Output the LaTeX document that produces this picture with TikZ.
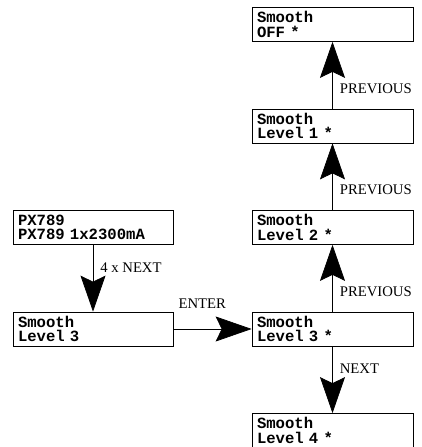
\documentclass[tikz,border=0pt]{standalone}
\usepackage{fontspec}
\setmainfont{Liberation Serif}
\newfontfamily\lcdfont{Liberation Mono}
\usetikzlibrary{positioning,arrows.meta}

\begin{document}
\begin{tikzpicture}[node distance=101.5pt,on grid,auto,
  screen/.style={draw,line width=0.7pt,minimum width=161pt,minimum height=34pt,
    text width=151pt,inner xsep=5pt,inner ysep=0pt,align=left,
    font=\lcdfont\bfseries\fontsize{15.6}{14.3}\selectfont},
  screen left/.style={screen,minimum width=160pt,text width=150pt},
  key/.style={font=\fontsize{14.7}{16}\selectfont,inner sep=0pt},
  push/.style={-{Stealth[length=36pt,width=25pt,inset=6pt]},line width=0.7pt}]
\useasboundingbox (0pt,0.5pt) rectangle (422pt,447.5pt);
\node[screen] (s_off) at (332.5pt,423pt) {Smooth\\OFF *};
\node[screen] (s_l1) [below=of s_off] {Smooth\\Level 1 *};
\node[screen] (s_l2) [below=of s_l1] {Smooth\\Level 2 *};
\node[screen] (s_l3) [below=of s_l2] {Smooth\\Level 3 *};
\node[screen] (s_l4) [below=of s_l3] {Smooth\\Level 4 *};
\node[screen left] (px) [left=239.5pt of s_l2] {PX789\\PX789 1x2300mA};
\node[screen left] (p_l3) [below=of px] {Smooth\\Level 3};

\path[push]
(s_l1) edge node[key,pos=0.3,anchor=west,xshift=7pt] {PREVIOUS} (s_off)
(s_l2) edge node[key,pos=0.3,anchor=west,xshift=7pt] {PREVIOUS} (s_l1)
(s_l3) edge node[key,pos=0.3,anchor=west,xshift=7pt] {PREVIOUS} (s_l2)
edge node[key,pos=0.33,anchor=west,xshift=7pt] {NEXT} (s_l4)
(px) edge node[key,pos=0.34,anchor=west,xshift=7pt] {4 x NEXT} (p_l3)
(p_l3) edge node[key,pos=0.37,anchor=south,yshift=20pt] {ENTER} (s_l3)
;
\end{tikzpicture}
\end{document}
